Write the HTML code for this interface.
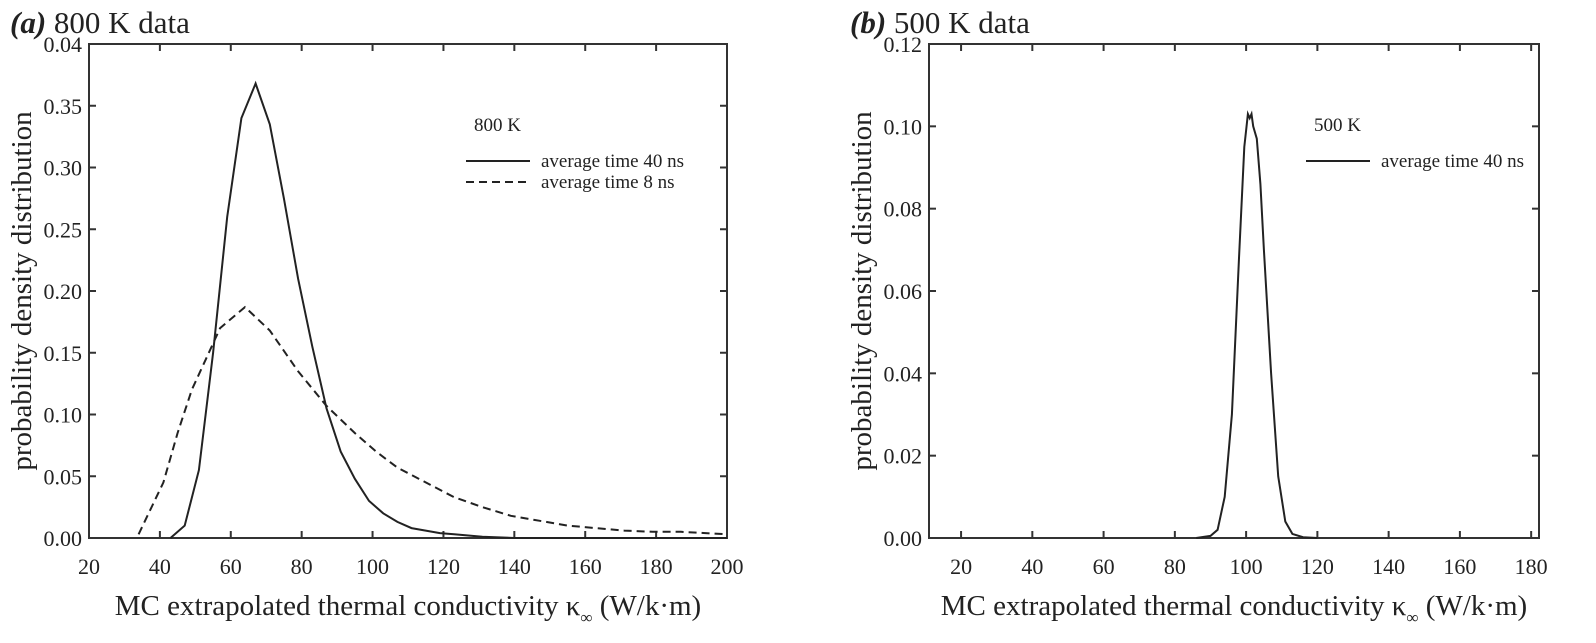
<!DOCTYPE html>
<html><head><meta charset="utf-8"><style>
body{margin:0;background:#fff}
svg{display:block;font-family:"Liberation Serif",serif;fill:#222}
</style></head><body>
<svg id="s" width="1596" height="643" viewBox="0 0 1596 643"></svg>
<script>
const aX40=[43,47,51,55,59,63,67,71,75,79,83,87,91,95,99,103,107,111,115,119,123,131,140,200];
const aY40=[0,0.01,0.055,0.15,0.26,0.34,0.368,0.335,0.275,0.21,0.155,0.105,0.07,0.048,0.03,0.02,0.013,0.008,0.006,0.004,0.003,0.001,0,0];
const aX8=[34,41,45,49,53,57,64,71,79,87,95,101,107,115,123,131,139,147,155,163,171,179,187,200];
const aY8=[0.003,0.045,0.085,0.12,0.145,0.17,0.187,0.168,0.135,0.107,0.085,0.07,0.057,0.045,0.033,0.025,0.018,0.014,0.01,0.008,0.006,0.005,0.005,0.003];
const bX=[86,90,92,94,96,98,99.5,100.5,101,101.5,102,103,104,105,107,109,111,113,116,120];
const bY=[0,0.0005,0.002,0.01,0.03,0.068,0.095,0.103,0.102,0.103,0.1,0.097,0.086,0.07,0.04,0.015,0.004,0.001,0.0002,0];
const aXTicks=[20,40,60,80,100,120,140,160,180,200];
const aYTicks=[0,0.05,0.1,0.15,0.2,0.25,0.3,0.35,0.4];
const aYLabels=["0.00","0.05","0.10","0.15","0.20","0.25","0.30","0.35","0.04"];
const bXTicks=[20,40,60,80,100,120,140,160,180];
const bYTicks=[0,0.02,0.04,0.06,0.08,0.1,0.12];
const bYLabels=["0.00","0.02","0.04","0.06","0.08","0.10","0.12"];
const NS="http://www.w3.org/2000/svg";
const svg=document.getElementById('s');
function el(tag,attrs,parent){const e=document.createElementNS(NS,tag);for(const k in attrs)e.setAttribute(k,attrs[k]);(parent||svg).appendChild(e);return e;}
function panel(p){
  const g=el('g',{});
  
  
  const sx=v=>p.L+(v-p.x0)/(p.x1-p.x0)*(p.R-p.L);
  const sy=v=>p.B-(v-p.y0)/(p.y1-p.y0)*(p.B-p.T);
  const box=el('rect',{x:p.L,y:p.T,width:p.R-p.L,height:p.B-p.T,fill:'none',stroke:'#333','stroke-width':2},g);
  
  
  p.xt.forEach(v=>{const x=sx(v);
    el('line',{x1:x,x2:x,y1:p.B,y2:p.B-7,stroke:'#333','stroke-width':2},g);
    el('line',{x1:x,x2:x,y1:p.T,y2:p.T+7,stroke:'#333','stroke-width':2},g);
    const t=el('text',{x:x,y:p.B+36,'text-anchor':'middle','font-size':22},g);t.textContent=v;
    
    });
  p.yt.forEach((v,i)=>{const y=sy(v);
    el('line',{x1:p.L,x2:p.L+7,y1:y,y2:y,stroke:'#333','stroke-width':2},g);
    el('line',{x1:p.R,x2:p.R-7,y1:y,y2:y,stroke:'#333','stroke-width':2},g);
    const t=el('text',{x:p.L-7,y:y+8,'text-anchor':'end','font-size':22},g);t.textContent=p.yl[i];
    
    });
  p.series.forEach(s=>{
    const d=s.x.map((v,i)=>(i?'L':'M')+sx(v).toFixed(1)+','+sy(s.y[i]).toFixed(1)).join('');
    const pa=el('path',{d:d,fill:'none',stroke:'#222','stroke-width':2,'stroke-dasharray':s.dash||'none'},g);
    
    });
  const xt=el('text',{x:(p.L+p.R)/2,y:p.B+77,'text-anchor':'middle','font-size':29},g);
  xt.innerHTML='MC extrapolated thermal conductivity κ<tspan font-size="17" dy="8">∞</tspan><tspan dy="-8"> (W/k·m)</tspan>';
  
  
  const yt=el('text',{x:0,y:0,'text-anchor':'middle','font-size':29,transform:`translate(${p.L-58},${(p.T+p.B)/2}) rotate(-90)`},g);
  yt.textContent='probability density distribution';
  
  
  const ti=el('text',{x:p.L-79,y:33,'font-size':31},g);
  ti.innerHTML='<tspan font-weight="bold" font-style="italic">'+p.tag+'</tspan> '+p.title;
  
  
  const lg=el('g',{},g);
  
  
  const lt=el('text',{x:p.lx+8,y:131,'font-size':19},lg);lt.textContent=p.ltitle;
  p.series.forEach((s,i)=>{const y=161+i*21;
    el('line',{x1:p.lx,x2:p.lx+64,y1:y,y2:y,stroke:'#222','stroke-width':2,'stroke-dasharray':s.dash||'none'},lg);
    const t=el('text',{x:p.lx+75,y:y+6,'font-size':19},lg);t.textContent=s.label;
    
    });
}
panel({name:'panel-a',L:89,R:727,T:44,B:538,x0:20,x1:200,y0:0,y1:0.4,xt:aXTicks,yt:aYTicks,yl:aYLabels,tag:'(a)',title:'800 K data',ltitle:'800 K',lx:466,
  series:[{name:'line-40ns',x:aX40,y:aY40,label:'average time 40 ns'},{name:'line-8ns',x:aX8,y:aY8,dash:'8,5',label:'average time 8 ns'}]});
panel({name:'panel-b',L:929,R:1539,T:44,B:538,x0:11,x1:182.2,y0:0,y1:0.12,xt:bXTicks,yt:bYTicks,yl:bYLabels,tag:'(b)',title:'500 K data',ltitle:'500 K',lx:1306,
  series:[{name:'line-40ns-500k',x:bX,y:bY,label:'average time 40 ns'}]});
</script>
</body></html>
